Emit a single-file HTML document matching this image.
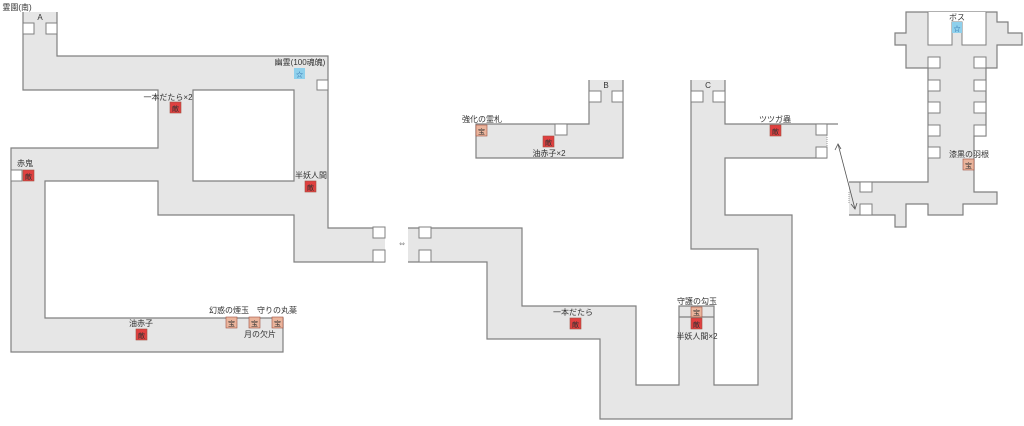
<!DOCTYPE html>
<html><head><meta charset="utf-8"><style>
html,body{margin:0;padding:0;background:#fff;}
svg{display:block;}
text{font-family:"Liberation Sans","Noto Sans CJK JP",sans-serif;font-size:8px;fill:#333;}
</style></head><body>
<svg width="1024" height="426" viewBox="0 0 1024 426" xmlns="http://www.w3.org/2000/svg">
<g fill="#e6e6e6" stroke="none">
<rect x="23" y="12" width="34" height="78"/>
<rect x="23" y="56" width="305" height="34"/>
<rect x="294" y="56" width="34" height="206"/>
<rect x="158" y="90" width="35" height="125"/>
<rect x="11" y="148" width="147" height="33"/>
<rect x="11" y="148" width="34" height="204"/>
<rect x="11" y="318" width="272" height="34"/>
<rect x="158" y="181" width="136" height="34"/>
<rect x="294" y="228" width="91" height="34"/>
<rect x="408" y="228" width="114" height="34"/>
<rect x="487" y="228" width="35" height="111"/>
<rect x="487" y="306" width="149" height="33"/>
<rect x="600" y="306" width="36" height="113"/>
<rect x="600" y="385" width="192" height="34"/>
<rect x="679" y="306" width="35" height="79"/>
<rect x="758" y="215" width="34" height="204"/>
<rect x="691" y="80" width="34" height="169"/>
<rect x="691" y="215" width="101" height="34"/>
<rect x="725" y="124" width="102" height="34"/>
<rect x="589" y="80" width="34" height="78"/>
<rect x="476" y="124" width="147" height="34"/>
<polygon points="906,12 997,12 997,22 1008,22 1008,33 1022,33 1022,45 997,45 997,68 986,68 986,136 974,136 974,192 997,192 997,204 963,204 963,215 928,215 928,204 906,204 906,227 895,227 895,215 849,215 849,182 928,182 928,68 906,68 906,45 895,45 895,33 906,33"/>
</g>
<g fill="none" stroke="#808080" stroke-width="1.2">
<polyline points="23,12 23,90 158,90 158,148 11,148 11,352 283,352 283,318 45,318 45,181 158,181 158,215 294,215 294,262 385,262"/>
<polyline points="57,12 57,56 328,56 328,228 385,228"/>
<polygon points="193,90 294,90 294,181 193,181"/>
<polyline points="408,228 522,228 522,306 636,306 636,385 679,385 679,306 714,306 714,385 758,385 758,249 691,249 691,80"/>
<polyline points="408,262 487,262 487,339 600,339 600,419 792,419 792,215 725,215 725,158 827,158"/>
<polyline points="725,80 725,124 838,124"/>
<line x1="679" y1="317" x2="714" y2="317"/>
<polyline points="589,80 589,124 476,124 476,158 623,158 623,80"/>
<polyline points="849,182 928,182 928,68 906,68 906,45 895,45 895,33 906,33 906,12 997,12 997,22 1008,22 1008,33 1022,33 1022,45 997,45 997,68 986,68 986,136 974,136 974,192 997,192 997,204 963,204 963,215 928,215 928,204 906,204 906,227 895,227 895,215 849,215"/>
</g>
<g fill="#fff" stroke="#808080" stroke-width="1">
<rect x="928" y="12" width="24" height="33" stroke="none"/>
<rect x="962" y="12" width="24" height="33" stroke="none"/>
<rect x="952" y="12" width="10" height="10" stroke="none"/>
<polyline points="928,12 928,45 952,45 952,22 962,22 962,45 986,45 986,12" fill="none"/>
</g>
<g fill="#fff" stroke="#808080" stroke-width="1">
<rect x="23" y="23" width="11" height="11"/><rect x="46" y="23" width="11" height="11"/>
<rect x="317" y="80" width="11" height="10"/>
<rect x="11" y="170" width="11" height="11"/>
<rect x="373" y="227" width="12" height="11"/><rect x="373" y="250" width="12" height="12"/>
<rect x="419" y="227" width="12" height="11"/><rect x="419" y="250" width="12" height="12"/>
<rect x="589" y="91" width="12" height="11"/><rect x="612" y="91" width="11" height="11"/>
<rect x="555" y="124" width="12" height="11"/>
<rect x="691" y="91" width="12" height="11"/><rect x="713" y="91" width="12" height="11"/>
<rect x="816" y="124" width="11" height="11"/><rect x="816" y="147" width="11" height="11"/>
<rect x="860" y="182" width="12" height="10"/><rect x="860" y="204" width="12" height="11"/>
<rect x="928" y="57" width="12" height="11"/><rect x="928" y="80" width="12" height="11"/><rect x="928" y="102" width="12" height="11"/><rect x="928" y="125" width="12" height="11"/><rect x="928" y="147" width="12" height="11"/>
<rect x="974" y="57" width="12" height="11"/><rect x="974" y="80" width="12" height="11"/><rect x="974" y="102" width="12" height="11"/><rect x="974" y="125" width="12" height="11"/>
</g>
<line x1="827" y1="135" x2="827" y2="147" stroke="#999" stroke-dasharray="1,1"/>
<line x1="849" y1="192" x2="849" y2="204" stroke="#999" stroke-dasharray="1,1"/>
<g stroke="#555" stroke-width="0.8" fill="none">
<line x1="838" y1="144" x2="855" y2="209"/>
<polyline points="835,150 838,144 841,149"/>
<polyline points="851,204 855,209 857,203"/>
</g>
<g stroke="#a05040" stroke-width="0.6">
<rect x="170" y="102" width="11" height="11" fill="#e04040"/>
<rect x="23" y="170" width="11" height="11" fill="#e04040"/>
<rect x="305" y="181" width="11" height="11" fill="#e04040"/>
<rect x="136" y="329" width="11" height="11" fill="#e04040"/>
<rect x="543" y="136" width="11" height="11" fill="#e04040"/>
<rect x="770" y="125" width="11" height="11" fill="#e04040"/>
<rect x="570" y="318" width="11" height="11" fill="#e04040"/>
<rect x="691" y="318" width="11" height="11" fill="#e04040"/>
<rect x="226" y="317" width="11" height="11" fill="#eab49c"/>
<rect x="249" y="317" width="11" height="11" fill="#eab49c"/>
<rect x="272" y="317" width="11" height="11" fill="#eab49c"/>
<rect x="476" y="125" width="11" height="11" fill="#eab49c"/>
<rect x="691" y="307" width="11" height="10" fill="#eab49c"/>
<rect x="963" y="159" width="11" height="11" fill="#eab49c"/>
</g>
<rect x="294" y="68" width="11" height="11" fill="#8fd0ec"/>
<rect x="952" y="22" width="10" height="11" fill="#8fd0ec"/>
<g text-anchor="middle">
<text x="175.5" y="111" style="font-size:7px">敵</text>
<text x="28.5" y="179" style="font-size:7px">敵</text>
<text x="310.5" y="190" style="font-size:7px">敵</text>
<text x="141.5" y="338" style="font-size:7px">敵</text>
<text x="548.5" y="145" style="font-size:7px">敵</text>
<text x="775.5" y="134" style="font-size:7px">敵</text>
<text x="575.5" y="327" style="font-size:7px">敵</text>
<text x="696.5" y="327" style="font-size:7px">敵</text>
<text x="231.5" y="326" style="font-size:7px">宝</text>
<text x="254.5" y="326" style="font-size:7px">宝</text>
<text x="277.5" y="326" style="font-size:7px">宝</text>
<text x="481.5" y="134" style="font-size:7px">宝</text>
<text x="696.5" y="315" style="font-size:7px">宝</text>
<text x="968.5" y="168" style="font-size:7px">宝</text>
<text x="299.5" y="77" style="font-size:7px;fill:#2060a0">☆</text>
<text x="957" y="31" style="font-size:7px;fill:#2060a0">☆</text>
</g>
<g text-anchor="middle">
<text x="17" y="10">霊園(南)</text>
<text x="40" y="20">A</text>
<text x="300" y="65">幽霊(100魂魄)</text>
<text x="168" y="100">一本だたら×2</text>
<text x="25" y="166">赤鬼</text>
<text x="311" y="178">半妖人間</text>
<text x="141" y="326">油赤子</text>
<text x="253" y="313">幻惑の煙玉　守りの丸薬</text>
<text x="260" y="337">月の欠片</text>
<text x="402" y="246" style="font-family:'DejaVu Sans',sans-serif;font-size:7px;fill:#888">⇔</text>
<text x="482" y="122">強化の霊札</text>
<text x="549" y="156">油赤子×2</text>
<text x="606" y="88">B</text>
<text x="708" y="88">C</text>
<text x="775" y="122">ツツガ蟲</text>
<text x="573" y="315">一本だたら</text>
<text x="697" y="304">守護の勾玉</text>
<text x="697" y="339">半妖人間×2</text>
<text x="957" y="20">ボス</text>
<text x="969" y="157">漆黒の羽根</text>
</g>
</svg>
</body></html>
